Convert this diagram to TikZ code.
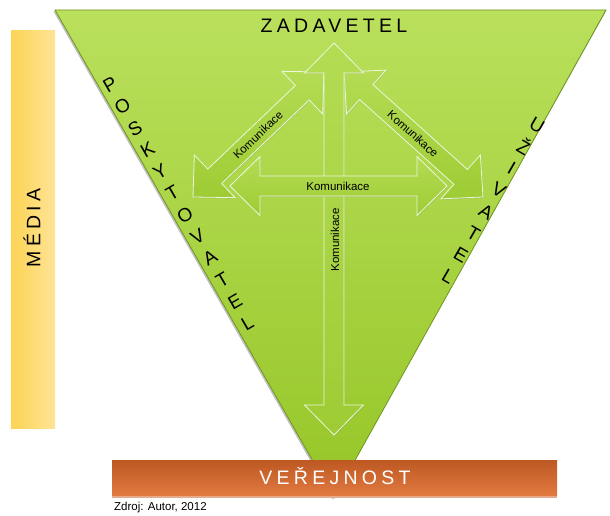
\documentclass[tikz,border=0pt]{standalone}
\usepackage{fontspec}
\setmainfont{Liberation Sans}
\newfontfamily\widefont[LetterSpace=22]{Liberation Sans}
\usetikzlibrary{shadows}
\definecolor{mediaL}{RGB}{253,212,84}
\definecolor{mediaR}{RGB}{254,227,150}
\definecolor{triT}{RGB}{186,224,92}
\definecolor{triB}{RGB}{150,198,40}
\definecolor{triE}{RGB}{110,150,30}
\definecolor{arrT}{RGB}{180,220,84}
\definecolor{arrB}{RGB}{158,204,52}
\definecolor{arrE}{RGB}{236,246,222}
\definecolor{orT}{RGB}{190,88,35}
\definecolor{orB}{RGB}{224,122,64}
\definecolor{orL}{RGB}{232,170,140}
\newcommand{\blockarrow}[4]{%
  \begin{scope}[shift={#1}, rotate=#2]
    \path[arrowbody] (0,0) -- (30,29.5) -- (30,10) -- (#3-30,10) -- (#3-30,29.5)
      -- (#3,0) -- (#3-30,-29.5) -- (#3-30,-10) -- (30,-10) -- (30,-29.5) -- cycle;
    \coordinate (#4) at (#3/2,0);
  \end{scope}}
\begin{document}
\begin{tikzpicture}[x=1pt,y=-1pt,
  bigtext/.style={font=\widefont\fontsize{19.5}{20}\selectfont, inner sep=0pt},
  sideletter/.style={font=\fontsize{19}{20}\selectfont, inner sep=0pt},
  lbl/.style={font=\fontsize{11.5}{12}\selectfont, inner sep=0pt},
  arrowbody/.style={draw=arrE, line width=0.8pt, top color=arrT, bottom color=arrB,
    drop shadow={opacity=0.25, shadow xshift=0.6pt, shadow yshift=-1pt}}]
\useasboundingbox (0,0) rectangle (610,516);
% media bar
\shade[left color=mediaL, right color=mediaR] (11,31) rectangle (55,428);
\node[bigtext, rotate=90] (media) at (32,228) {MÉDIA};
% triangle
\coordinate (tl) at (55,10);
\coordinate (tr) at (606,10);
\coordinate (ap) at (334,498);
\fill[black, opacity=0.25] (53.5,11.5) -- (606,11.5) -- (332.5,499.5) -- cycle;
\shade[top color=triT, bottom color=triB, draw=triE, line width=0.8pt] (tl) -- (tr) -- (ap) -- cycle;
% arrows
\blockarrow{(193,197)}{43.66}{181.1}{dl}
\blockarrow{(344,72)}{-41.96}{186.9}{dr}
\blockarrow{(334,43)}{-90}{392}{dv}
\blockarrow{(230,186)}{0}{217}{dh}
\node[lbl, rotate=43.66] (lblL) at (258,135) {Komunikace};
\node[lbl, rotate=-41.96] (lblR) at (413,134) {Komunikace};
\node[lbl] (lblH) at (338,186) {Komunikace};
\node[lbl, rotate=90] (lblV) at (335,240) {Komunikace};
% side texts
\node[bigtext] (zad) at (334,25.5) {ZADAVETEL};
\foreach \ch [count=\i from 0] in {P,O,S,K,Y,T,O,V,A,T,E,L}
  \node[sideletter, rotate=30] (pl\i) at ({110+12.5*\i},{85+21.64*\i}) {\ch};
\foreach \ch [count=\i from 0] in {U,Ž,I,V,A,T,E,L}
  \node[sideletter, rotate=-30] (ul\i) at ({537-12.7*\i},{125+21.7*\i}) {\ch};
% public bar
\fill[orL] (112,494) rectangle (557,498);
\shade[top color=orT, bottom color=orB] (112,460) rectangle (557,495);
\node[bigtext, text=white] (ver) at (335,476) {VEŘEJNOST};
\node[font=\fontsize{11.5}{12}\selectfont, anchor=west, inner sep=0pt] (src) at (114,508) {Zdroj: Autor, 2012};
\end{tikzpicture}
\end{document}
